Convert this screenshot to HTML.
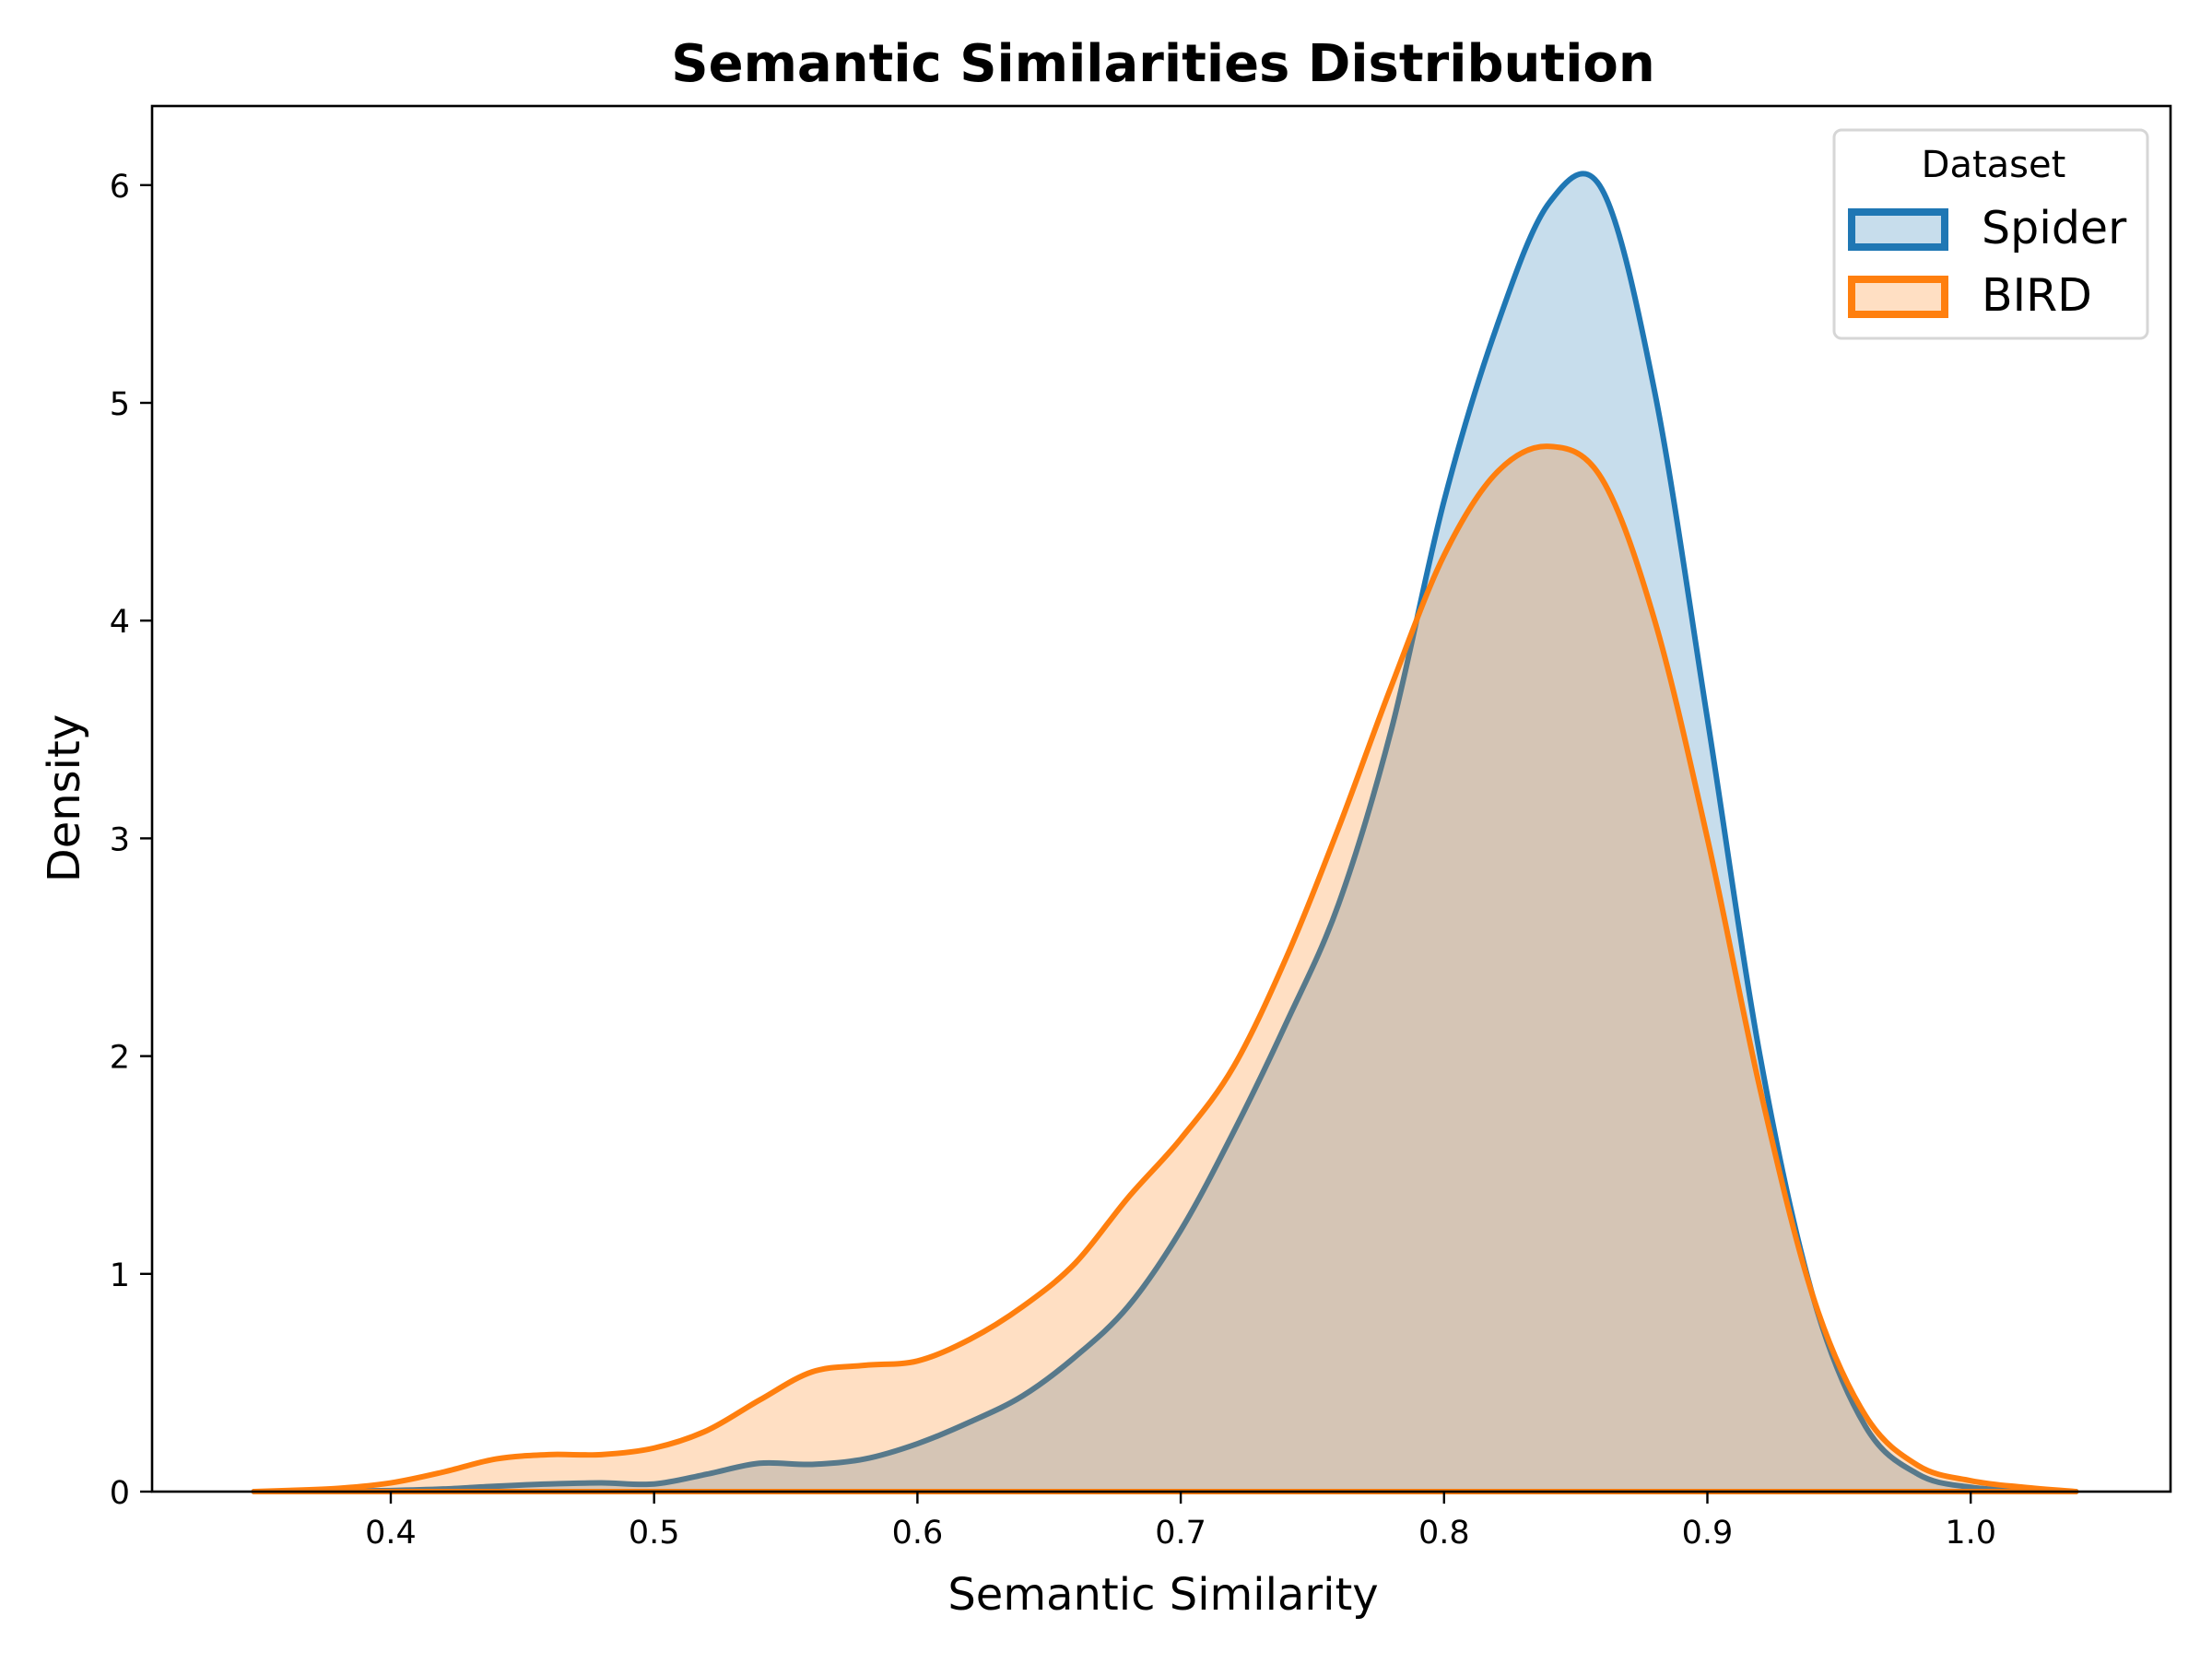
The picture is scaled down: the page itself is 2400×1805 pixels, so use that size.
<!DOCTYPE html>
<html><head><meta charset="utf-8"><style>
body{margin:0;background:#fff}
svg text{font-family:"DejaVu Sans","Liberation Sans",sans-serif}
</style></head><body>
<svg id="chart" width="2400" height="1800" xmlns="http://www.w3.org/2000/svg">
<rect width="2400" height="1800" fill="#fff"/>
<text x="1262" y="88" text-anchor="middle" font-size="56" font-weight="bold">Semantic Similarities Distribution</text>
<g id="plot"></g>
<text x="1262" y="1746" text-anchor="middle" font-size="48">Semantic Similarity</text>
<text transform="translate(86,866) rotate(-90)" text-anchor="middle" font-size="48">Density</text>
<g>
<rect x="1990" y="141" width="340" height="226" rx="8" fill="#fff" stroke="#d6d6d6" stroke-width="3"/>
<text x="2163" y="192" text-anchor="middle" font-size="40">Dataset</text>
<g>
<rect x="2009" y="230" width="101" height="38" fill="rgba(31,119,180,0.25)" stroke="#1f77b4" stroke-width="8"/>
<text x="2150" y="264" font-size="49">Spider</text></g>
<g>
<rect x="2009" y="303" width="101" height="38" fill="rgba(255,127,14,0.25)" stroke="#ff7f0e" stroke-width="8"/>
<text x="2150" y="337" font-size="49">BIRD</text></g>
</g>
</svg>
<script>
const xs=[0.36,0.38,0.40,0.42,0.44,0.46,0.48,0.50,0.52,0.54,0.56,0.58,0.60,0.62,0.64,0.66,0.68,0.70,0.72,0.74,0.76,0.78,0.80,0.82,0.84,0.86,0.88,0.90,0.92,0.94,0.96,0.98,1.00,1.02,1.04];
const spider=[0,0.002,0.005,0.012,0.025,0.035,0.04,0.035,0.08,0.13,0.125,0.15,0.22,0.32,0.44,0.62,0.85,1.2,1.65,2.15,2.7,3.5,4.55,5.35,5.92,5.98,5.05,3.55,2.0,0.9,0.3,0.08,0.02,0.005,0];
const bird=[0.005,0.015,0.04,0.09,0.15,0.17,0.17,0.2,0.28,0.42,0.55,0.58,0.6,0.7,0.85,1.05,1.35,1.62,1.95,2.45,3.05,3.7,4.3,4.68,4.8,4.65,4.0,3.0,1.85,0.9,0.35,0.12,0.05,0.02,0];
const xTicks=[0.4,0.5,0.6,0.7,0.8,0.9,1.0];
const xTickLabels=["0.4","0.5","0.6","0.7","0.8","0.9","1.0"];
const yTicks=[0,1,2,3,4,5,6];
const yTickLabels=["0","1","2","3","4","5","6"];
const L=165,R=2355,T=115,B=1618;
const X=v=>424+(v-0.4)*2857;
const Y=d=>B-d*236.2;
const NS="http://www.w3.org/2000/svg";
const g=document.getElementById('plot');
function mk(t,a){const e=document.createElementNS(NS,t);for(const k in a)e.setAttribute(k,a[k]);return e;}
function smooth(vals){
  const p=xs.map((x,i)=>[X(x),Y(vals[i])]);
  let d=`M${X(0.348)},${B} L${p[0][0]},${p[0][1]}`;
  for(let i=0;i<p.length-1;i++){
    const p0=p[Math.max(0,i-1)],p1=p[i],p2=p[i+1],p3=p[Math.min(p.length-1,i+2)];
    const c1=[p1[0]+(p2[0]-p0[0])/6,p1[1]+(p2[1]-p0[1])/6];
    const c2=[p2[0]-(p3[0]-p1[0])/6,p2[1]-(p3[1]-p1[1])/6];
    d+=` C${c1[0]},${Math.min(c1[1],B)} ${c2[0]},${Math.min(c2[1],B)} ${p2[0]},${p2[1]}`;
  }
  return d;
}
function series(vals,fill,stroke,name){
  const line=smooth(vals);
  const f=mk('path',{d:line+` L${X(xs[xs.length-1])},${B} L${X(0.348)},${B} Z`,fill:fill,stroke:'none'});
  
  
  g.appendChild(f);
  const l=mk('path',{d:line+` Z`,fill:'none',stroke:stroke,'stroke-width':6,'stroke-linejoin':'round'});
  
  
  g.appendChild(l);
}
series(spider,'rgba(31,119,180,0.25)','#1f77b4','spider');
series(bird,'rgba(255,127,14,0.25)','#ff7f0e','bird');
const frame=mk('rect',{x:L,y:T,width:R-L,height:B-T,fill:'none',stroke:'#000','stroke-width':2.6});


g.appendChild(frame);
xTicks.forEach((v,i)=>{
  const t=mk('line',{x1:X(v),x2:X(v),y1:B,y2:B+13,stroke:'#000','stroke-width':2.4});
  
  
  g.appendChild(t);
  const tx=mk('text',{x:X(v),y:B+56,'text-anchor':'middle','font-size':35});
  tx.textContent=xTickLabels[i];
  
  
  g.appendChild(tx);
});
yTicks.forEach((v,i)=>{
  const t=mk('line',{x1:L-13,x2:L,y1:Y(v),y2:Y(v),stroke:'#000','stroke-width':2.4});
  
  
  g.appendChild(t);
  const tx=mk('text',{x:L-24,y:Y(v)+13,'text-anchor':'end','font-size':35});
  tx.textContent=yTickLabels[i];
  
  
  g.appendChild(tx);
});
</script>
</body></html>
